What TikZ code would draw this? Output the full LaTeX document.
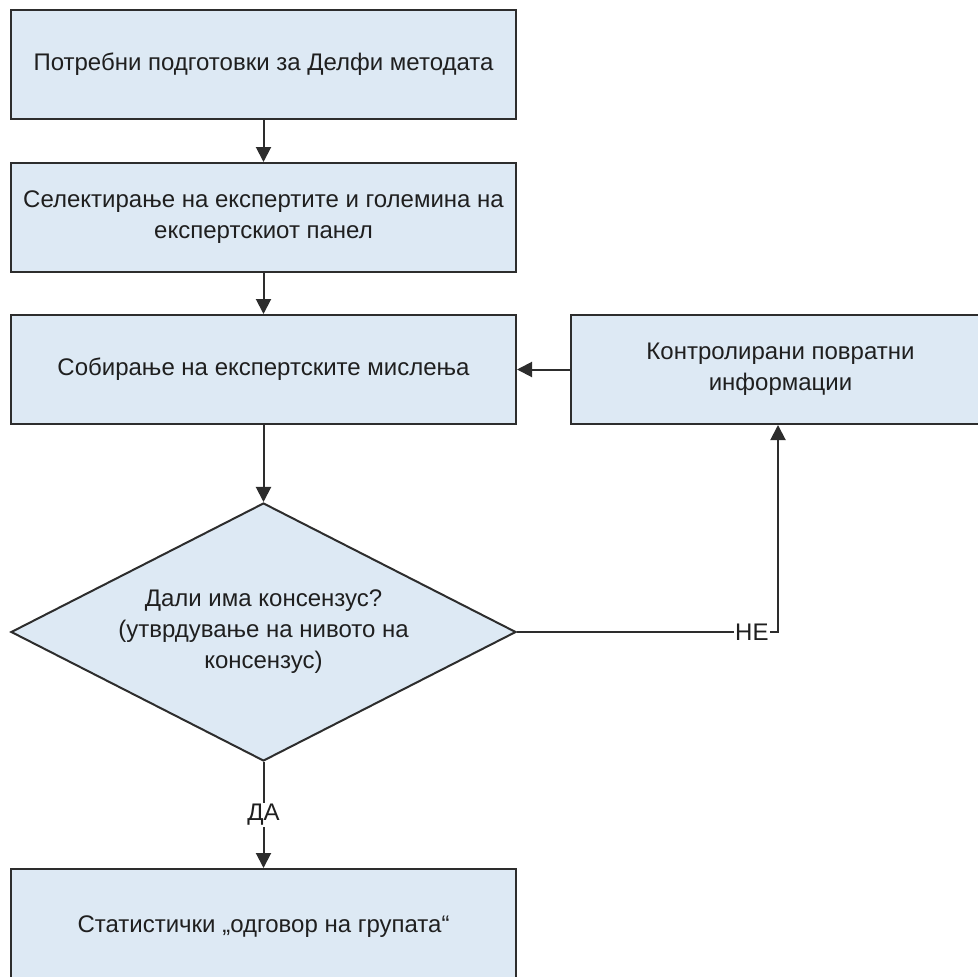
\documentclass[tikz,border=0pt]{standalone}
\usepackage{fontspec}
\setmainfont{Liberation Sans}
\usetikzlibrary{shapes.geometric,arrows.meta}
\definecolor{boxfill}{RGB}{221,233,244}
\definecolor{boxline}{RGB}{45,45,45}
\tikzset{
  stagebox/.style={draw=boxline,fill=boxfill,line width=2pt,minimum width=505pt,minimum height=109pt,align=center,text=black!88,font=\fontsize{24}{31}\selectfont},
  decision/.style={diamond,draw=boxline,fill=boxfill,line width=2pt,minimum width=505pt,minimum height=258pt,aspect=1.95,inner sep=0pt,align=center,text=black!88,font=\fontsize{24}{31}\selectfont},
  arr/.style={draw=boxline,line width=2pt,-{Triangle[width=15pt,length=15pt]}},
  lbl/.style={fill=white,inner sep=1.5pt,text=black!88,font=\fontsize{24}{28}\selectfont}
}
\begin{document}
\begin{tikzpicture}[x=1pt,y=1pt]
  \useasboundingbox (0,0) rectangle (977,-977);
  \node[stagebox] (prep) at (263.5,-64.5) {Потребни подготовки за Делфи методата};
  \node[stagebox] (select) at (263.5,-217.5) {Селектирање на експертите и големина на\\експертскиот панел};
  \node[stagebox] (collect) at (263.5,-369.5) {Собирање на експертските мислења};
  % box runs past the right edge of the page
  \node[stagebox,minimum width=419pt] (feedback) at (780.5,-369.5) {Контролирани повратни\\информации};
  \node[decision] (consensus) at (263.5,-632) {Дали има консензус?\\(утврдување на нивото на\\консензус)};
  \node[stagebox,minimum height=115pt] (answer) at (263.5,-926.5) {Статистички „одговор на групата“};

  \draw[arr] (prep) -- (select);
  \draw[arr] (select) -- (collect);
  \draw[arr] (collect) -- (consensus);
  \draw[arr] (consensus) -- node[lbl]{ДА} (answer);
  \draw[arr] (consensus.east) -| node[pos=0.45,lbl]{НЕ} ([xshift=-2.5pt]feedback.south);
  \draw[arr] (feedback) -- (collect);
\end{tikzpicture}
\end{document}
